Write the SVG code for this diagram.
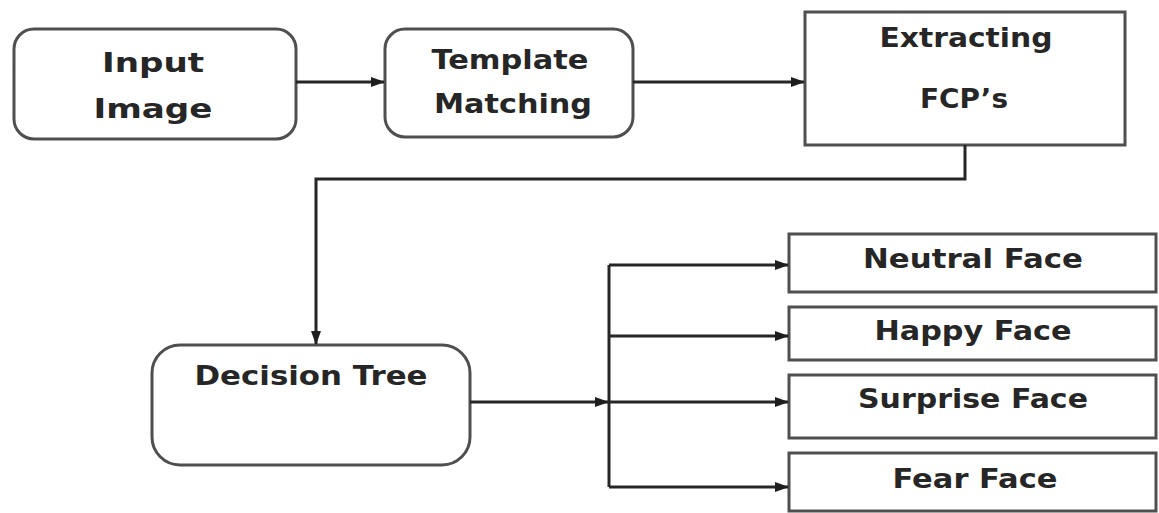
<svg xmlns="http://www.w3.org/2000/svg" width="1159" height="513" viewBox="0 0 1159 513">
<defs>
<marker id="ah" markerWidth="14" markerHeight="10" refX="13" refY="5" orient="auto" markerUnits="userSpaceOnUse"><path d="M0,0 L14,5 L0,10 z" fill="#1e1e1e"/></marker>
<style>
.box{fill:#fff;stroke:#4f4f4f;stroke-width:3}
.t{font-family:"DejaVu Sans",Verdana,sans-serif;font-weight:bold;font-size:26px;fill:#262626;text-anchor:middle}
.c{fill:none;stroke:#262626;stroke-width:3}
</style>
</defs>
<rect width="1159" height="513" fill="#fff"/>
<g id="input-image"><rect class="box" x="14" y="29" width="282" height="110" rx="20"/><text class="t" x="153" y="72" textLength="102" lengthAdjust="spacingAndGlyphs">Input</text><text class="t" x="153" y="118" textLength="119" lengthAdjust="spacingAndGlyphs">Image</text></g>
<g id="template-matching"><rect class="box" x="385" y="29" width="248" height="108" rx="20"/><text class="t" x="510" y="69" textLength="157" lengthAdjust="spacingAndGlyphs">Template</text><text class="t" x="513" y="113" textLength="158" lengthAdjust="spacingAndGlyphs">Matching</text></g>
<g id="extracting-fcps"><rect class="box" x="805" y="12" width="320" height="133"/><text class="t" x="966" y="47" textLength="173" lengthAdjust="spacingAndGlyphs">Extracting</text><text class="t" x="964" y="108" textLength="88" lengthAdjust="spacingAndGlyphs">FCP’s</text></g>
<g id="decision-tree"><rect class="box" x="152" y="345" width="318" height="120" rx="28"/><text class="t" x="311" y="385" textLength="233" lengthAdjust="spacingAndGlyphs">Decision Tree</text></g>
<g id="neutral-face"><rect class="box" x="789" y="234" width="367" height="58"/><text class="t" x="973" y="268" textLength="220" lengthAdjust="spacingAndGlyphs">Neutral Face</text></g>
<g id="happy-face"><rect class="box" x="789" y="307" width="367" height="53"/><text class="t" x="973" y="340" textLength="197" lengthAdjust="spacingAndGlyphs">Happy Face</text></g>
<g id="surprise-face"><rect class="box" x="789" y="375" width="367" height="63"/><text class="t" x="973" y="408" textLength="230" lengthAdjust="spacingAndGlyphs">Surprise Face</text></g>
<g id="fear-face"><rect class="box" x="789" y="453" width="367" height="58"/><text class="t" x="975" y="488" textLength="165" lengthAdjust="spacingAndGlyphs">Fear Face</text></g>
<g id="connectors">
<path class="c" d="M296,82 H384" marker-end="url(#ah)"/>
<path class="c" d="M633,82 H804" marker-end="url(#ah)"/>
<path class="c" d="M965,145 V179 H316 V344" marker-end="url(#ah)"/>
<path class="c" d="M470,402 H608" marker-end="url(#ah)"/>
<path class="c" d="M609,265 V487"/>
<path class="c" d="M609,265 H788" marker-end="url(#ah)"/>
<path class="c" d="M609,336 H788" marker-end="url(#ah)"/>
<path class="c" d="M609,402 H788" marker-end="url(#ah)"/>
<path class="c" d="M609,487 H788" marker-end="url(#ah)"/>
</g>
</svg>
